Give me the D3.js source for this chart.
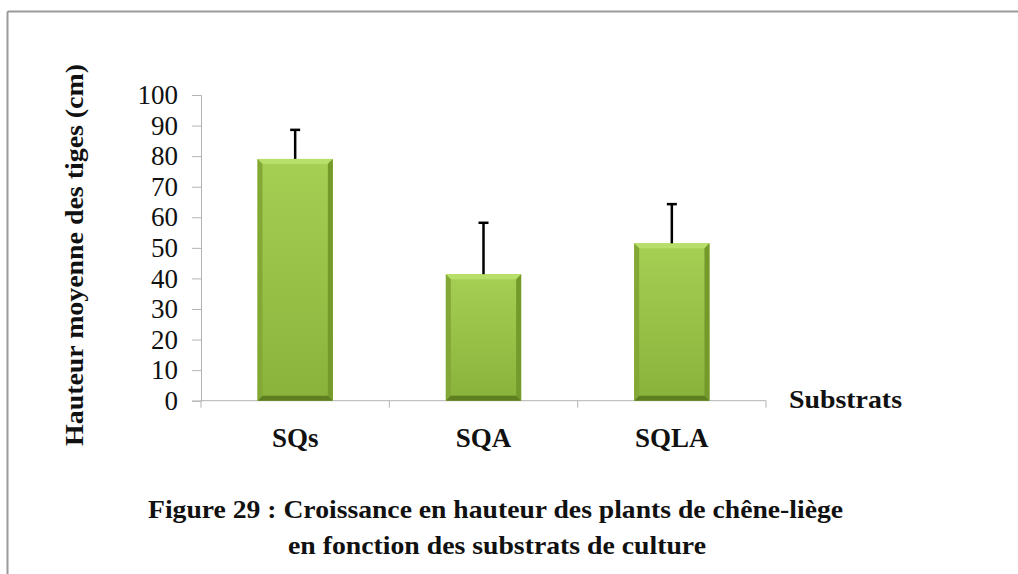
<!DOCTYPE html>
<html>
<head>
<meta charset="utf-8">
<script src="https://cdn.jsdelivr.net/npm/d3@7"></script>
<style>
  html, body { margin: 0; padding: 0; background: #fff; }
  svg text { font-family: "Liberation Serif", "Times New Roman", serif; }
</style>
</head>
<body>
<svg id="chart" width="1018" height="574"></svg>
<script>
// Mean stem height per culture substrate, with standard deviation
const categories = ["SQs", "SQA", "SQLA"];
const means = [79.1, 41.4, 51.5];
const errors = [9.5, 16.8, 12.8];
const yTicks = [0, 10, 20, 30, 40, 50, 60, 70, 80, 90, 100];

const svg = d3.select("#chart");

// frame lines (top and left)
svg.append("line").attr("x1", 7.5).attr("x2", 1018).attr("y1", 11.5).attr("y2", 11.5)
  .attr("stroke", "#9a9a9a").attr("stroke-width", 2);
svg.append("line").attr("x1", 7.5).attr("x2", 7.5).attr("y1", 11.5).attr("y2", 574)
  .attr("stroke", "#9a9a9a").attr("stroke-width", 2);

const plot = { left: 201, right: 766, top: 95, bottom: 400.7 };

const x = d3.scaleBand().domain(categories).range([plot.left, plot.right])
  .paddingInner(0.6).paddingOuter(0.3);
const xTicks = d3.scaleBand().domain(categories).range([plot.left, plot.right]);
const y = d3.scaleLinear().domain([0, 100]).range([plot.bottom, plot.top]);

// gradient for the bevelled bars
const defs = svg.append("defs");
const g = defs.append("linearGradient").attr("id", "barFill")
  .attr("x1", 0).attr("x2", 0).attr("y1", 0).attr("y2", 1);
g.append("stop").attr("offset", "0%").attr("stop-color", "#a6d054");
g.append("stop").attr("offset", "100%").attr("stop-color", "#88b23a");

// y axis
const yAxis = svg.append("g").attr("transform", `translate(${plot.left},0)`)
  .call(d3.axisLeft(y).tickValues(yTicks).tickSize(9).tickPadding(14));
yAxis.select(".domain").attr("stroke", "#b3b3b3");
yAxis.selectAll(".tick line").attr("stroke", "#b3b3b3");
yAxis.selectAll(".tick text").attr("font-size", 27).attr("fill", "#111")
  .attr("font-family", "Liberation Serif, serif");

// x axis line and category separators
svg.append("line").attr("x1", plot.left).attr("x2", plot.right)
  .attr("y1", plot.bottom).attr("y2", plot.bottom).attr("stroke", "#b3b3b3");
const sepPos = categories.map(c => xTicks(c)).concat([plot.right]);
svg.selectAll(".sep").data(sepPos).enter().append("line")
  .attr("x1", d => d).attr("x2", d => d)
  .attr("y1", plot.bottom).attr("y2", plot.bottom + 7).attr("stroke", "#b3b3b3");

// bars with bevel edges
const bev = 5;
const bars = svg.selectAll(".bar").data(categories).enter().append("g");
bars.each(function(c, i) {
  const gg = d3.select(this);
  const x0 = x(c), w = x.bandwidth(), y0 = y(means[i]), y1 = y(0);
  gg.append("rect").attr("x", x0).attr("y", y0).attr("width", w).attr("height", y1 - y0)
    .attr("fill", "url(#barFill)");
  // top bevel
  gg.append("polygon").attr("points",
    [[x0, y0], [x0 + w, y0], [x0 + w - bev, y0 + bev], [x0 + bev, y0 + bev]].join(" "))
    .attr("fill", "#b8df69");
  // left bevel
  gg.append("polygon").attr("points",
    [[x0, y0], [x0 + bev, y0 + bev], [x0 + bev, y1 - bev], [x0, y1]].join(" "))
    .attr("fill", "#83a836");
  // right bevel
  gg.append("polygon").attr("points",
    [[x0 + w, y0], [x0 + w - bev, y0 + bev], [x0 + w - bev, y1 - bev], [x0 + w, y1]].join(" "))
    .attr("fill", "#739a2b");
  // bottom bevel
  gg.append("polygon").attr("points",
    [[x0, y1], [x0 + bev, y1 - bev], [x0 + w - bev, y1 - bev], [x0 + w, y1]].join(" "))
    .attr("fill", "#5e7e20");
});

// error bars (upper whisker only)
const cx = c => x(c) + x.bandwidth() / 2;
svg.selectAll(".err").data(categories).enter().append("line")
  .attr("x1", cx).attr("x2", cx)
  .attr("y1", (c, i) => y(means[i])).attr("y2", (c, i) => y(means[i] + errors[i]))
  .attr("stroke", "#000").attr("stroke-width", 2.5);
svg.selectAll(".cap").data(categories).enter().append("line")
  .attr("x1", c => cx(c) - 5).attr("x2", c => cx(c) + 5)
  .attr("y1", (c, i) => y(means[i] + errors[i])).attr("y2", (c, i) => y(means[i] + errors[i]))
  .attr("stroke", "#000").attr("stroke-width", 2.5);

// category labels
svg.selectAll(".cat").data(categories).enter().append("text")
  .attr("x", cx).attr("y", 447).attr("text-anchor", "middle")
  .attr("font-size", 27).attr("font-weight", "bold").attr("fill", "#111")
  .text(d => d);

// axis titles
svg.append("text").attr("x", 789).attr("y", 408)
  .attr("font-size", 26).attr("font-weight", "bold").attr("fill", "#111")
  .attr("textLength", 113).attr("lengthAdjust", "spacingAndGlyphs")
  .text("Substrats");

svg.append("text").attr("transform", "translate(83,255) rotate(-90)")
  .attr("text-anchor", "middle")
  .attr("font-size", 25).attr("font-weight", "bold").attr("fill", "#111")
  .attr("textLength", 382).attr("lengthAdjust", "spacingAndGlyphs")
  .text("Hauteur moyenne des tiges (cm)");

// caption
svg.append("text").attr("x", 148).attr("y", 518)
  .attr("font-size", 26).attr("font-weight", "bold").attr("fill", "#111")
  .attr("textLength", 695).attr("lengthAdjust", "spacingAndGlyphs")
  .text("Figure 29 :  Croissance en hauteur des plants de chêne-liège");
svg.append("text").attr("x", 288).attr("y", 554)
  .attr("font-size", 26).attr("font-weight", "bold").attr("fill", "#111")
  .attr("textLength", 418).attr("lengthAdjust", "spacingAndGlyphs")
  .text("en fonction des substrats de culture");
</script>
</body>
</html>
